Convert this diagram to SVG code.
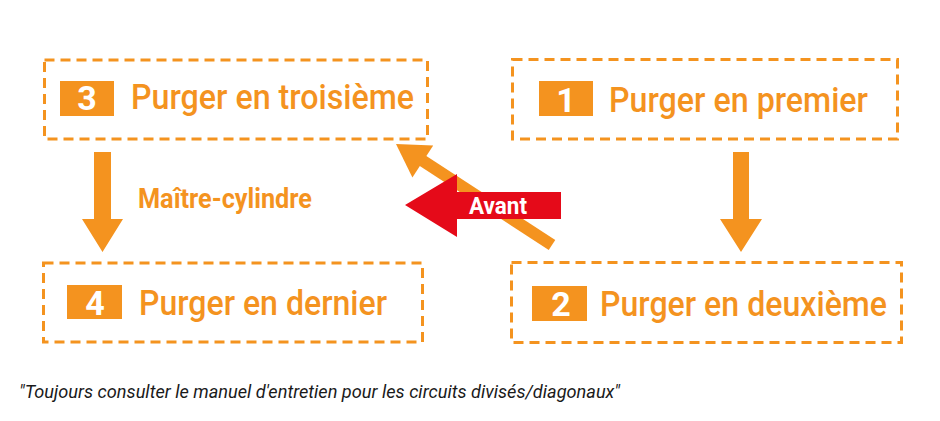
<svg xmlns="http://www.w3.org/2000/svg" width="940" height="421" viewBox="0 0 940 421">
<style>
.box{fill:none;stroke:#F4931F;stroke-width:3;stroke-dasharray:10 6}
.badge{fill:#F4931F}
.num{font-family:Roboto,"Liberation Sans",sans-serif;font-weight:700;font-size:34px;fill:#fff;text-anchor:middle}
.lbl{font-family:Roboto,"Liberation Sans",sans-serif;font-weight:500;font-size:35px;fill:#F4931F}
.arr{fill:#F4931F}
</style>
<rect width="940" height="421" fill="#fff"/>
<g id="node3">
<rect class="box" x="44.5" y="60" width="383" height="79"/>
<rect class="badge" x="60" y="81" width="54" height="35"/>
<text class="num" x="87" y="110">3</text>
<text class="lbl" x="131" y="109" textLength="283" lengthAdjust="spacingAndGlyphs">Purger en troisième</text>
</g>
<g id="node1">
<rect class="box" x="512.5" y="59.5" width="385" height="79.5"/>
<rect class="badge" x="539" y="81" width="54" height="35"/>
<text class="num" x="566" y="112">1</text>
<text class="lbl" x="609" y="112" textLength="259" lengthAdjust="spacingAndGlyphs">Purger en premier</text>
</g>
<g id="node2">
<rect class="box" x="511.5" y="262.5" width="390" height="80"/>
<rect class="badge" x="532" y="286" width="55" height="35"/>
<text class="num" x="561" y="316">2</text>
<text class="lbl" x="600" y="316" textLength="287" lengthAdjust="spacingAndGlyphs">Purger en deuxième</text>
</g>
<g id="node4">
<rect class="box" x="43.5" y="263" width="379" height="79"/>
<rect class="badge" x="67" y="285" width="55" height="34"/>
<text class="num" x="95" y="315">4</text>
<text class="lbl" x="139" y="315" textLength="248" lengthAdjust="spacingAndGlyphs">Purger en dernier</text>
</g>
<g id="connectors">
<polygon class="arr" points="94,152 111,152 111,219 123,219 102.5,252 82,219 94,219"/>
<polygon class="arr" points="733,152 749,152 749,219 762,219 741,252 720,219 733,219"/>
<line x1="552" y1="245" x2="420" y2="159" stroke="#F4931F" stroke-width="12"/>
<polygon class="arr" points="396,144 412.4,177.4 433.2,145.6"/>
</g>
<g id="front">
<polygon fill="#E50A19" points="405,205 457,174 457,192 561,192 561,219 457,219 457,237"/>
<text x="469" y="213.5" font-family="Roboto,'Liberation Sans',sans-serif" font-weight="700" font-size="23" fill="#fff" textLength="58" lengthAdjust="spacingAndGlyphs">Avant</text>
</g>
<text x="138" y="208" font-family="Roboto,'Liberation Sans',sans-serif" font-weight="700" font-size="28" fill="#F4931F" textLength="174" lengthAdjust="spacingAndGlyphs">Maître-cylindre</text>
<text x="19" y="398" font-family="Roboto,'Liberation Sans',sans-serif" font-style="italic" font-size="18" fill="#1a1a1a" textLength="601" lengthAdjust="spacingAndGlyphs">"Toujours consulter le manuel d'entretien pour les circuits divisés/diagonaux"</text>
</svg>
